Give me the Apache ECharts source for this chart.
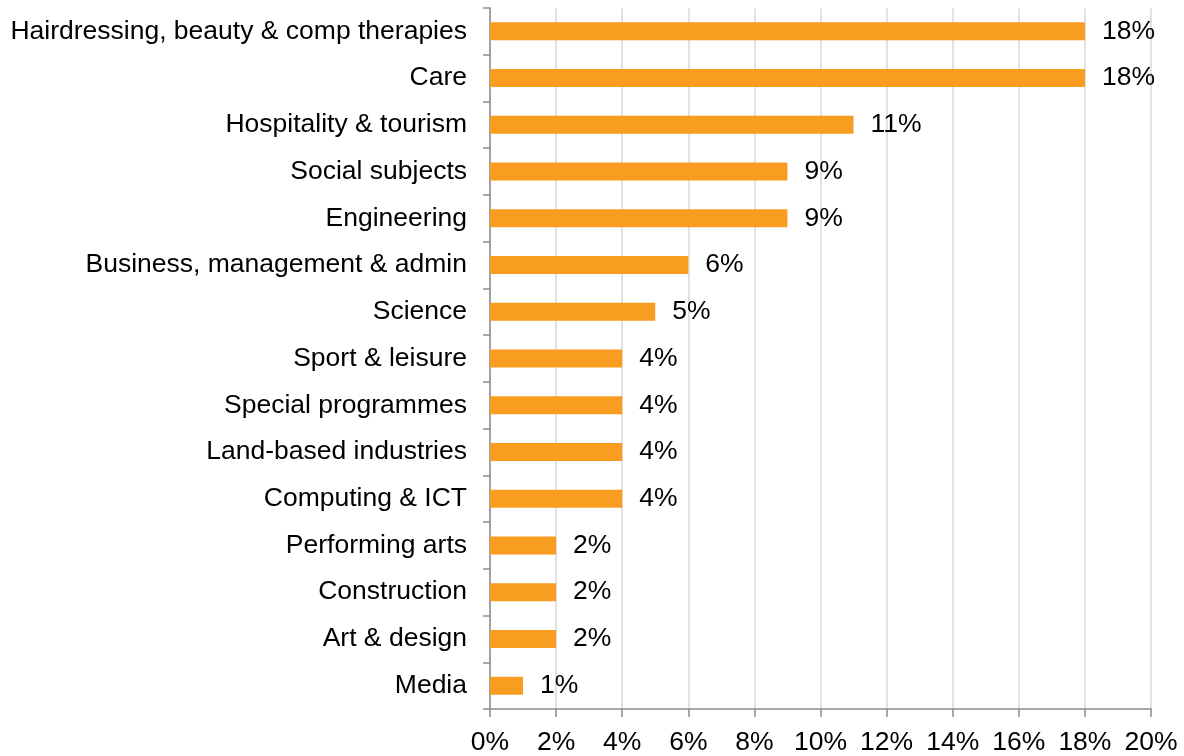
<!DOCTYPE html>
<html lang="en">
<head>
    <meta charset="UTF-8">
    <title>Subjects</title>
    <script src="https://cdn.jsdelivr.net/npm/echarts@6/dist/echarts.min.js"></script>
    <style>
        html, body { margin: 0; padding: 0; background: #fff; }
        #chart { width: 1184px; height: 756px; }
    </style>
</head>
<body>
    <div id="chart"></div>
    <script>
        // subject areas, top to bottom
        var categories = [
            'Hairdressing, beauty & comp therapies', 'Care', 'Hospitality & tourism',
            'Social subjects', 'Engineering', 'Business, management & admin', 'Science',
            'Sport & leisure', 'Special programmes', 'Land-based industries',
            'Computing & ICT', 'Performing arts', 'Construction', 'Art & design', 'Media'
        ];
        // share in percent
        var values = [18, 18, 11, 9, 9, 6, 5, 4, 4, 4, 4, 2, 2, 2, 1];

        var font = 'Liberation Sans, Arial, sans-serif';
        var fs = 26.5;
        var myChart = echarts.init(document.getElementById('chart'));

        var option = {
            animation: false,
            grid: { left: 490, right: 33, top: 8, bottom: 46, containLabel: false },
            xAxis: {
                type: 'value',
                min: 0,
                max: 20,
                interval: 2,
                axisLine: { show: true, lineStyle: { color: '#8c8c8c', width: 1.5 } },
                axisTick: { show: true, length: 8, lineStyle: { color: '#8c8c8c', width: 1.5 } },
                splitLine: { show: true, lineStyle: { color: '#d9d9d9', width: 1.5 } },
                axisLabel: {
                    formatter: '{value}%',
                    color: '#000',
                    fontSize: fs,
                    fontFamily: font,
                    margin: 20
                }
            },
            yAxis: {
                type: 'category',
                inverse: true,
                data: categories,
                axisLine: { show: true, lineStyle: { color: '#8c8c8c', width: 1.5 } },
                axisTick: { show: true, length: 7, lineStyle: { color: '#8c8c8c', width: 1.5 } },
                axisLabel: {
                    color: '#000',
                    fontSize: fs,
                    fontFamily: font,
                    margin: 23
                }
            },
            series: [{
                type: 'bar',
                data: values,
                barWidth: 18,
                itemStyle: { color: '#F89D20' },
                label: {
                    show: true,
                    position: 'right',
                    distance: 17,
                    formatter: '{c}%',
                    color: '#000',
                    fontSize: fs,
                    fontFamily: font
                }
            }]
        };

        myChart.setOption(option);
    </script>
</body>
</html>
